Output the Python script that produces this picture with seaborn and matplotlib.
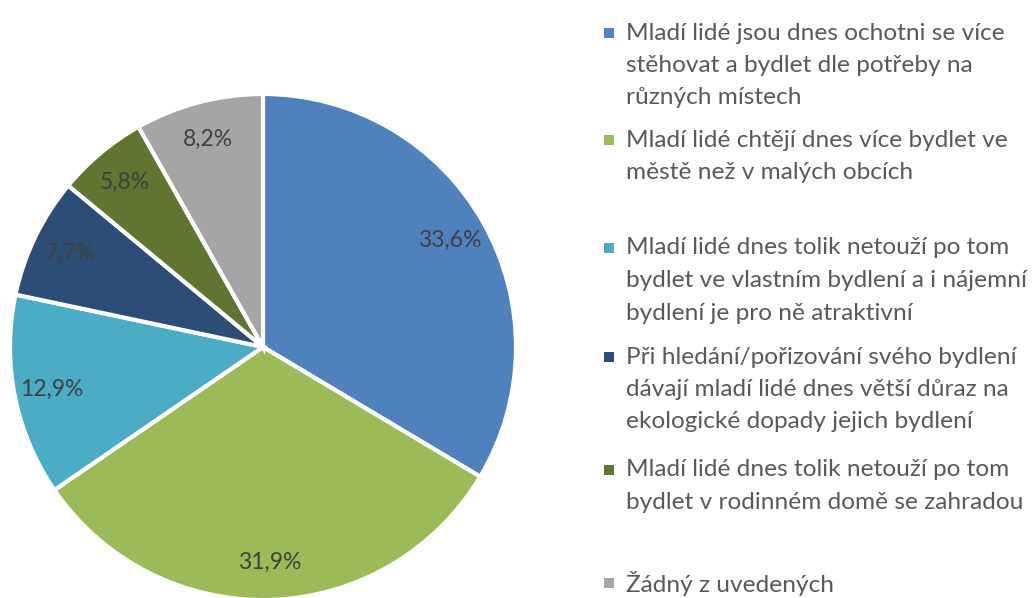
import matplotlib
matplotlib.use('Agg')
import matplotlib.pyplot as plt
import seaborn as sns
from matplotlib.patches import Rectangle

# Data
labels = [
    'Mladí lidé jsou dnes ochotni se více\nstěhovat a bydlet dle potřeby na\nrůzných místech',
    'Mladí lidé chtějí dnes více bydlet ve\nměstě než v malých obcích',
    'Mladí lidé dnes tolik netouží po tom\nbydlet ve vlastním bydlení a i nájemní\nbydlení je pro ně atraktivní',
    'Při hledání/pořizování svého bydlení\ndávají mladí lidé dnes větší důraz na\nekologické dopady jejich bydlení',
    'Mladí lidé dnes tolik netouží po tom\nbydlet v rodinném domě se zahradou',
    'Žádný z uvedených',
]
values = [33.6, 31.9, 12.9, 7.7, 5.8, 8.2]
colors = ['#4F81BD', '#9BBB59', '#4BACC6', '#2C4D75', '#5F7530', '#A5A5A5']

sns.set_theme(style='white')
plt.rcParams['font.family'] = ['Lato', 'DejaVu Sans']

fig = plt.figure(figsize=(10.36, 5.98), dpi=100)
W, H = 1036, 598

# pie axes: centre (263, 347), radius ~253 px
cx, cy, r = 263, 347, 253
ax = fig.add_axes([(cx - r) / W, 1 - (cy + r) / H, 2 * r / W, 2 * r / H])
wedges, texts, autotexts = ax.pie(
    values, colors=colors, startangle=90, counterclock=False,
    autopct=lambda p: f'{p:.1f}%'.replace('.', ','), pctdistance=0.85,
    wedgeprops=dict(edgecolor='white', linewidth=3),
    textprops=dict(color='#404040', fontsize=16.5))
ax.set_xlim(-1, 1)
ax.set_ylim(-1, 1)
ax.set_aspect('equal')
ax.axis('off')

# legend drawn entry by entry (Excel-style spacing)
entry_y = [33, 140, 248, 357, 470, 583]
line_h = 32.5
for lab, col, y in zip(labels, colors, entry_y):
    fig.patches.append(Rectangle(((604) / W, 1 - (y + 5) / H), 10 / W, 10 / H,
                                 transform=fig.transFigure, facecolor=col,
                                 edgecolor='none'))
    for i, line in enumerate(lab.split('\n')):
        fig.text(626 / W, 1 - (y + i * line_h) / H, line, fontsize=17.6,
                 color='#595959', va='center', ha='left')

fig.savefig('out.png', dpi=100)
